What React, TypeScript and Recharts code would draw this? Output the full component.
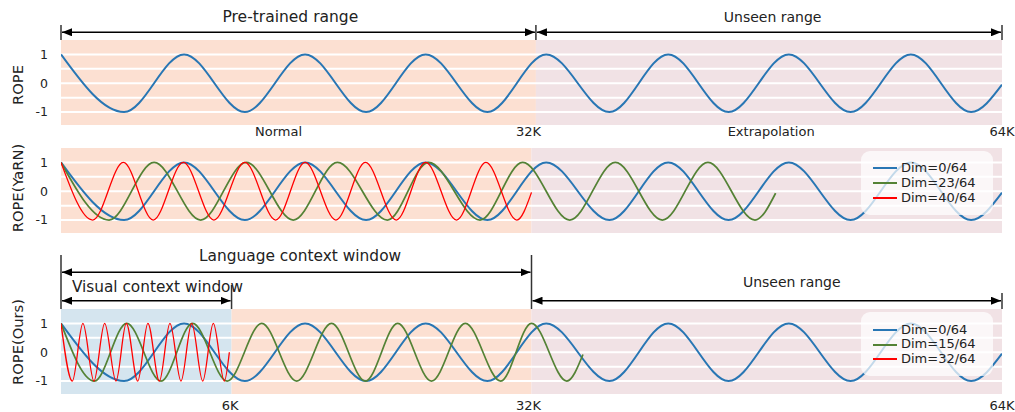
import React from 'react';
import { LineChart, Line, XAxis, YAxis, ReferenceArea, ReferenceLine, Legend } from 'recharts';

const FONT = '"DejaVu Sans", Verdana, sans-serif';
const W = 1015;
const H = 412;
const PLOT_L = 61;
const PLOT_R = 1002;
const X_MAX = 64; // position, in K tokens
const PLOT_H = 85;

const BLUE = '#2876b4';
const GREEN = '#548235';
const RED = '#ff0000';
const ORANGE_BG = '#fce0d2';
const PINK_BG = '#f1e2e5';
const BLUE_BG = '#d5e5ef';

// extrema of each curve (position in K, value), last point = where the curve stops
const dim0Pos = [0, 4.29, 8.37, 12.5, 16.6, 20.75, 24.8, 29.0, 33.0, 37.3, 41.3, 45.4, 49.5, 53.7, 57.8, 61.9, 64];
const dim0Val = [1, -1, 1, -1, 1, -1, 1, -1, 1, -1, 1, -1, 1, -1, 1, -1, -0.05];

const yarn23Pos = [0, 3.27, 6.33, 9.5, 12.6, 15.8, 18.8, 22.2, 25.0, 28.5, 31.4, 34.6, 37.7, 40.9, 44.0, 47.2, 48.6];
const yarn23Val = [1, -1, 1, -1, 1, -1, 1, -1, 1, -1, 1, -1, 1, -1, 1, -1, -0.07];

const yarn40Pos = [0, 2.16, 4.24, 6.27, 8.32, 10.4, 12.5, 14.6, 16.6, 18.7, 20.7, 22.8, 24.8, 26.9, 28.9, 31.0, 32.0];
const yarn40Val = [1, -1, 1, -1, 1, -1, 1, -1, 1, -1, 1, -1, 1, -1, 1, -1, -0.04];

const ours15Pos = [0, 2.27, 4.47, 6.8, 8.95, 11.3, 13.65, 16.03, 18.4, 20.7, 22.9, 25.2, 27.5, 29.9, 32.0, 34.4, 35.5];
const ours15Val = [1, -1, 1, -1, 1, -1, 1, -1, 1, -1, 1, -1, 1, -1, 1, -1, -0.08];

const ours32Pos = [0, 0.77, 1.49, 2.24, 2.97, 3.74, 4.44, 5.22, 5.91, 6.69, 7.41, 8.16, 8.89, 9.64, 10.36, 11.11, 11.45];
const ours32Val = [1, -1, 1, -1, 1, -1, 1, -1, 1, -1, 1, -1, 1, -1, 1, -1, 0];

// shaded ranges [from, to] per panel
const p1Regions = [[0, 32.3], [32.3, 64]];
const p2Regions = [[0, 32], [32, 64]];
const p3Regions = [[0, 11.6], [11.6, 32], [32, 64]];
const p1RegionColors = [ORANGE_BG, PINK_BG];
const p2RegionColors = [ORANGE_BG, PINK_BG];
const p3RegionColors = [BLUE_BG, ORANGE_BG, PINK_BG];

const p1Ticks = [14.8, 31.8, 48.3, 64];
const p1TickLabels = ['Normal', '32K', 'Extrapolation', '64K'];
const p3Ticks = [11.5, 31.8, 64];
const p3TickLabels = ['6K', '32K', '64K'];

const yTicks = [-1, 0, 1];
const stripes = [-1, -0.5, 0, 0.5, 1];
const Y_DOMAIN = [-1.45, 1.5];

const pts = (pos: number[], val: number[]) => pos.map((k, i) => ({ k, v: val[i] }));

const px = (k: number) => PLOT_L + (k / X_MAX) * (PLOT_R - PLOT_L);

const LegendBox = (props: any) => (
  <div style={{
    width: 132, height: 64, boxSizing: 'border-box', background: 'rgba(255,255,255,0.72)',
    borderRadius: 9, padding: '10.5px 0 0 12px', fontFamily: FONT, fontSize: 13, color: '#222',
  }}>
    {(props.payload || []).map((e: any) => (
      <div key={e.value} style={{ display: 'flex', alignItems: 'center', height: 14.8 }}>
        <span style={{ display: 'inline-block', width: 24, borderTop: `2px solid ${e.color}`, marginRight: 4 }} />
        <span style={{ lineHeight: '14.8px', whiteSpace: 'nowrap' }}>{e.value}</span>
      </div>
    ))}
  </div>
);

interface Series { name: string; data: { k: number; v: number }[]; color: string; width: number }

function Panel(props: {
  top: number; axisH: number; ticks?: number[]; tickLabels?: string[]; tickGap?: number;
  regions: number[][]; regionColors: string[]; series: Series[]; legend?: boolean;
}) {
  const { top, axisH, ticks, tickLabels, tickGap, regions, regionColors, series, legend } = props;
  return (
    <div style={{ position: 'absolute', left: 0, top }}>
      <LineChart width={W} height={PLOT_H + axisH} margin={{ top: 0, right: W - PLOT_R, bottom: 0, left: 0 }}>
        <XAxis type="number" dataKey="k" domain={[0, X_MAX]} allowDataOverflow hide={!ticks}
          ticks={ticks} interval={0} height={axisH} axisLine={false} tickLine={false} tickSize={0}
          tickMargin={tickGap} tickFormatter={(v: number) => (tickLabels ? tickLabels[ticks!.indexOf(v)] : '')}
          tick={{ fontSize: 13, fill: '#222', fontFamily: FONT }} />
        <YAxis type="number" domain={Y_DOMAIN} allowDataOverflow ticks={yTicks} width={PLOT_L}
          axisLine={false} tickLine={false} tickSize={0} tickMargin={13}
          tick={{ fontSize: 12.5, fill: '#222', fontFamily: FONT }} />
        {regions.map((r, i) => (
          <ReferenceArea key={'r' + i} x1={r[0]} x2={r[1]} fill={regionColors[i]} fillOpacity={1} stroke="none" />
        ))}
        {stripes.map(y => (
          <ReferenceLine key={'s' + y} y={y} stroke="#ffffff" strokeWidth={2} />
        ))}
        {series.map(s => (
          <Line key={s.name} data={s.data} dataKey="v" name={s.name} type="monotone" stroke={s.color}
            strokeWidth={s.width} dot={false} activeDot={false} isAnimationActive={false} />
        ))}
        {legend && (
          <Legend layout="vertical" align="center" verticalAlign="middle" content={LegendBox}
            wrapperStyle={{ left: 861, top: 3, width: 132, height: 64 }} />
        )}
      </LineChart>
    </div>
  );
}

const Arrow = ({ from, to, y }: { from: number; to: number; y: number }) => (
  <line x1={px(from) + 1} x2={px(to) - 1} y1={y} y2={y} stroke="#000" strokeWidth={1.5}
    markerStart="url(#head)" markerEnd="url(#head)" />
);
const Bar = ({ k, y1, y2 }: { k: number; y1: number; y2: number }) => (
  <line x1={px(k)} x2={px(k)} y1={y1} y2={y2} stroke="#333" strokeWidth={1.5} />
);
const Note = ({ k, y, size, children }: any) => (
  <text x={px(k)} y={y} textAnchor="middle" fontSize={size} fontFamily={FONT} fill="#222">{children}</text>
);
const YTitle = ({ cy, children }: any) => (
  <text x={17.5} y={cy} transform={`rotate(-90 17.5 ${cy})`} textAnchor="middle" dy="0.36em"
    fontSize={14.7} fontFamily={FONT} fill="#222">{children}</text>
);

export default function App() {
  const dim0 = pts(dim0Pos, dim0Val);
  return (
    <div style={{ position: 'absolute', left: 0, top: 0, width: W, height: H, background: '#fff', overflow: 'hidden' }}>
      <Panel top={40} axisH={20} ticks={p1Ticks} tickLabels={p1TickLabels} tickGap={2}
        regions={p1Regions} regionColors={p1RegionColors}
        series={[{ name: 'Dim=0/64', data: dim0, color: BLUE, width: 2 }]} />
      <Panel top={147.5} axisH={0} regions={p2Regions} regionColors={p2RegionColors} legend
        series={[
          { name: 'Dim=0/64', data: dim0, color: BLUE, width: 2 },
          { name: 'Dim=23/64', data: pts(yarn23Pos, yarn23Val), color: GREEN, width: 1.7 },
          { name: 'Dim=40/64', data: pts(yarn40Pos, yarn40Val), color: RED, width: 1.3 },
        ]} />
      <Panel top={309} axisH={18} ticks={p3Ticks} tickLabels={p3TickLabels} tickGap={7}
        regions={p3Regions} regionColors={p3RegionColors} legend
        series={[
          { name: 'Dim=0/64', data: dim0, color: BLUE, width: 2 },
          { name: 'Dim=15/64', data: pts(ours15Pos, ours15Val), color: GREEN, width: 1.7 },
          { name: 'Dim=32/64', data: pts(ours32Pos, ours32Val), color: RED, width: 1.3 },
        ]} />
      <svg width={W} height={H} style={{ position: 'absolute', left: 0, top: 0, pointerEvents: 'none' }}>
        <defs>
          <marker id="head" markerUnits="userSpaceOnUse" markerWidth={10} markerHeight={8}
            refX={10} refY={4} orient="auto-start-reverse">
            <path d="M0,0 L10,4 L0,8 z" fill="#000" />
          </marker>
        </defs>
        <YTitle cy={85}>ROPE</YTitle>
        <YTitle cy={188}>ROPE(YaRN)</YTitle>
        <YTitle cy={342}>ROPE(Ours)</YTitle>
        {/* top panel */}
        <Bar k={0} y1={25} y2={40} />
        <Bar k={32.3} y1={25} y2={40} />
        <Bar k={64} y1={25} y2={40} />
        <Arrow from={0} to={32.3} y={32.3} />
        <Arrow from={32.3} to={64} y={32.3} />
        <Note k={15.6} y={21.7} size={15.5}>Pre-trained range</Note>
        <Note k={48.4} y={21.7} size={14}>Unseen range</Note>
        {/* bottom panel */}
        <Bar k={0} y1={255} y2={309} />
        <Bar k={32} y1={255} y2={309} />
        <Bar k={11.6} y1={285} y2={309} />
        <Bar k={64} y1={293} y2={309} />
        <Arrow from={0} to={32} y={272.3} />
        <Arrow from={0} to={11.6} y={300.7} />
        <Arrow from={32} to={64} y={300.7} />
        <Note k={16.26} y={261} size={15.4}>Language context window</Note>
        <Note k={6.56} y={291.7} size={15.3}>Visual context window</Note>
        <Note k={49.7} y={286.5} size={14}>Unseen range</Note>
      </svg>
    </div>
  );
}
